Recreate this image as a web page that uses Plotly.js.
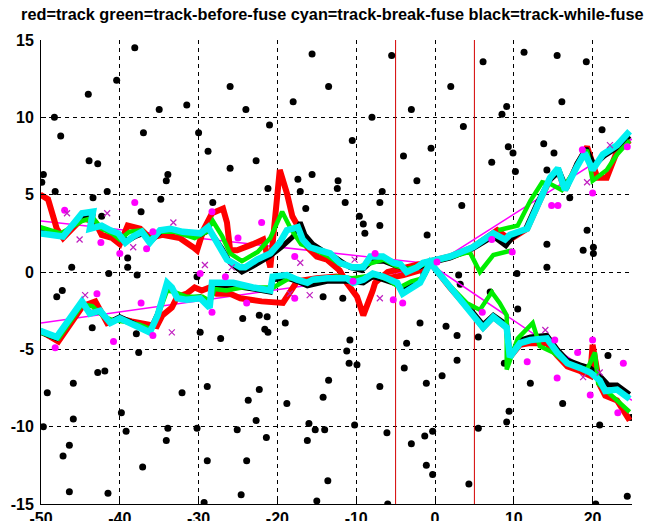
<!DOCTYPE html>
<html>
<head>
<meta charset="utf-8">
<script src="https://cdn.plot.ly/plotly-3.0.1.min.js"></script>
<style>html,body{margin:0;padding:0;background:#fff;}#chart{width:658px;height:521px;}</style>
</head>
<body>
<div id="chart"></div>
<script>
// clutter (black dots)
const clutterX = [-38.1,-15.6,-5.5,6.1,11.3,15.5,19.2,
 -49.7,-49.9,-48.2,-43.9,-42.8,-43.4,-41.6,-42.3,-37.3,-34.8,-34.1,-33.9,-46.1,-47.3,-48.0,-41.4,-39.0,-39.0,-37.8,-28.8,-26.0,-28.2,-30.2,-29.8,-27.2,-24.4,-43.5,-37.9,
 -22.7,-17.4,-15.6,-12.3,-12.4,-17.1,-21.2,-11.4,-16.4,-6.7,-7.0,-2.3,-9.6,-9.1,-7.0,-8.9,-1.0,-22.3,-21.3,-21.6,-21.2,-19.0,-14.2,-11.7,-1.9,-3.6,-10.8,-1.4,
 9.1,8.5,3.6,16.1,21.2,13.8,15.1,9.3,9.9,7.2,10.2,14.2,17.1,3.4,19.3,14.2,18.8,20.1,20.1,14.2,10.4,3.0,3.2,7.0,10.5,1.4,2.8,5.5,21.95,2.8,8.8,0.9,12.1,16.2,9.4,9.1,5.5,24.9,20.9,
 -37.6,-11.2,-10.9,-9.9,-3.9,-42.8,-41.9,-45.9,-49.2,-13.5,-7.0,-1.1,-28.9,-22.3,-32.1,-23.7,-14.2,-18.8,-39.8,-45.9,-22.7,-16.0,-10.2,-49.7,-33.9,-30.2,-25.1,-15.2,-14.0,-39.2,-6.1,-0.3,-1.3,-21.4,-34.1,-16.2,-3.0,-46.4,-47.2,-28.9,-23.9,-37.1,-1.1,-0.3,-13.6,-46.4,-41.5,-24.6,-29.3,-15.0,-6.0,
 4.3,20.4,24.4,
 -40.4,-48.3,-47.5,-44.0,-35.0,-31.5,-26.0,-21.0,-18.0,-13.5,-10.5,-8.0,-3.0,-0.5,2.0,-24.0,-30.0,-4.0,-37.0];
const clutterY = [14.5,14.1,14.0,13.6,14.2,14.0,13.6,
 6.3,5.8,5.2,7.2,7.0,4.8,5.2,3.6,3.9,4.7,5.9,6.3,0.3,-1.2,-1.6,-0.1,0.9,0.3,-0.2,7.8,6.7,4.5,-0.3,-3.9,-4.3,-3.0,-3.6,-4.0,
 7.2,6.0,6.3,5.9,5.4,5.2,5.4,4.5,4.1,5.2,4.5,5.9,3.6,3.1,3.0,2.5,2.4,-2.8,-2.9,-3.7,-3.9,-3.3,-1.6,-1.7,-3.3,-4.6,-4.4,-0.1,
 10.7,10.2,9.4,11.0,9.2,8.3,7.7,8.1,7.7,7.1,6.5,6.6,4.8,4.3,2.7,1.8,1.4,1.6,1.2,0.3,-0.1,-0.2,-0.8,-1.3,-2.4,-3.5,-4.1,-4.2,-5.4,-5.7,-5.9,-6.7,-7.2,-8.5,-9.0,-9.7,-10.1,-9.4,-9.9,
 -5.2,-5.1,-5.9,-6.0,-6.2,-6.5,-6.4,-7.2,-7.8,-7.0,-7.4,-7.2,-7.4,-7.6,-7.8,-8.3,-8.1,-8.5,-9.1,-9.5,-9.6,-9.8,-9.9,-10.0,-10.1,-10.1,-10.2,-10.2,-10.2,-10.3,-10.4,-10.3,-10.6,-10.7,-10.9,-10.9,-11.1,-11.2,-11.9,-12.2,-12.2,-12.6,-12.5,-13.1,-13.5,-14.2,-14.3,-14.4,-14.9,-14.8,-15.0,
 -13.7,-15.0,-14.5,
 12.4,10.0,8.8,11.5,10.5,10.8,12.0,9.5,11.0,12.0,8.5,10.0,10.5,8.0,12.0,10.5,9.0,7.5,9.0];

// ground truth (thin magenta)
const truthX1 = [-50, 0, 25];
const truthY1 = [3.3, 0.5, 8.6];
const truthX2 = [-50, 0, 25];
const truthY2 = [-3.3, 0.3, -8.3];

// measurements (magenta)
const measDotX = [-47,-38.1,-42.4,-40,-36.6,-35.8,-28.3,-25,-29.8,-26.6,-42.9,-40.8,-48.2,-37.3,-35.8,-28.3,-22,-17.8,-17.8,-23.9,-5.3,-4.1,-7.6,-10.4,0.25,7.2,9.8,14.8,15.6,18.7,20.0,24.4,6.0,11.7,15.2,15.5,18.1,20,19.7,23.9,23.2];
const measDotY = [4.0,4.5,1.9,1.2,1.5,2.6,3.9,2.2,-0.1,-0.3,-1.4,-4.5,-4.9,-2.0,-4.1,-2.6,3.2,1.0,-1.7,-2.0,-1.8,-2.0,1.2,-0.6,0.65,2.1,1.3,4.3,4.3,7.9,5.1,8.1,-2.6,-5.8,-4.4,-6.85,-5.2,-4.4,-7.95,-5.9,-9.1];
const measXX = [-46.7,-45.1,-41.6,-38.3,-33.2,-44.4,-33.4,-29.2,-25.8,-17.1,-18.4,-15.9,-10.2,-7.0,22.2,19.3,14,18.8,20.9];
const measXY = [3.8,2.1,3.8,1.6,3.2,-1.5,-3.9,0.45,0.3,0.6,-1.4,-1.5,0.8,-1.7,8.2,5.8,-3.75,-6.8,-6.5];

// red = track
const redX1 = [-50.1,-49.1,-48.0,-47.2,-44.7,-43.1,-42.3,-41.0,-40.0,-39.0,-37.4,-36.2,-34.6,-32.4,-30.7,-30.2,-29.4,-28.3,-26.9,-26.4,-26.0,-25.1,-23.1,-21.8,-20.9,-19.7,-18.8,-18.1,-17.1,-16.2,-15.0,-13.7,-12.1,-11.2,-9.9,-9.1,-7.9,-7.6,-6.0,-4.0,-2.0,-0.6,1.9,4.8,7.9,9.5,11.7,13.3,14.6,15.6,16.5,18.0,19.3,20.6,21.8,23.1,24.7];
const redY1 = [5.0,4.7,2.8,2.2,3.5,3.2,2.4,2.2,1.8,3.0,2.8,2.2,2.4,2.2,1.6,1.4,2.7,3.8,4.1,3.2,1.4,1.4,1.8,2.1,0.3,6.6,5.1,3.6,2.7,1.6,1.0,0.8,0.1,-0.7,-1.6,-2.8,-1.2,-0.7,0.0,0.3,0.5,0.7,1.0,1.6,2.7,2.1,2.8,4.6,6.0,6.6,5.3,6.9,8.1,6.1,6.1,7.8,8.5];
const redX2 = [-50.1,-47.8,-44.7,-43.1,-41.6,-40.0,-38.5,-35.3,-34.6,-33.4,-32.7,-31.5,-30.5,-29.6,-28.6,-27.7,-26.0,-24.7,-22.0,-19.3,-17.5,-15.0,-12.5,-10.5,-8.0,-6.0,-4.0,-2.0,-0.6,1.9,4.8,6.1,7.4,9.1,9.5,10.8,12.1,14.2,15.5,16.8,18.4,19.7,20.0,20.9,21.6,23.1,24.7];
const redY2 = [-3.8,-4.5,-2.2,-1.9,-3.3,-3.0,-3.2,-3.5,-2.8,-2.3,-1.6,-1.4,-1.0,-1.2,-1.0,-1.4,-1.4,-1.7,-1.9,-2.0,-0.6,-0.4,-0.3,-0.5,-0.3,-0.4,-0.2,0.1,0.6,-1.0,-2.7,-3.6,-2.9,-3.6,-5.5,-4.7,-4.6,-4.6,-5.4,-6.1,-6.4,-6.7,-4.7,-7.3,-8.0,-8.3,-9.6];

// black = track-while-fuse
const blackX1 = [-50.1,-47.2,-44.8,-43.4,-43.6,-42.3,-41.0,-40.0,-39.0,-38.0,-37.0,-36.0,-34.8,-33.5,-32.0,-29.8,-28.6,-28.0,-27.0,-26.0,-24.5,-23.0,-21.0,-19.5,-18.0,-17.1,-16.5,-15.5,-14.0,-12.5,-10.8,-9.3,-8.0,-6.5,-5.0,-3.5,-2.0,-0.6,1.9,4.8,7.4,9.0,9.8,11.5,13.0,14.5,15.8,16.7,18.0,19.2,20.2,21.5,23.0,24.7];
const blackY1 = [2.7,2.4,3.5,3.7,2.9,3.0,2.6,2.4,2.0,2.3,2.5,2.0,2.6,2.7,2.5,2.4,2.7,2.3,1.5,0.6,0.0,0.4,1.0,1.6,2.3,3.2,2.4,1.8,1.3,0.9,0.3,0.1,0.7,0.7,0.4,0.2,0.3,0.6,0.9,1.5,2.3,1.7,2.2,2.8,4.5,5.9,6.5,5.4,7.0,8.0,6.9,7.5,8.0,8.8];
const blackX2 = [-50.1,-48.0,-44.8,-43.8,-42.5,-41.2,-40.0,-38.7,-37.4,-36.2,-35.2,-34.0,-33.4,-32.7,-31.5,-29.8,-28.6,-28.3,-27.3,-25.6,-23.1,-20.9,-20.6,-18.8,-17.5,-16.2,-13.7,-11.2,-9.1,-7.9,-6.6,-4.8,-4.1,-2.9,-1.9,-0.6,1.9,4.8,6.1,7.4,9.1,9.5,10.8,12.1,14.2,15.5,16.8,18.4,19.7,20.9,22.0,23.1,24.7];
const blackY2 = [-3.9,-4.3,-2.0,-2.6,-2.6,-3.2,-2.9,-3.2,-3.5,-3.8,-2.7,-0.8,-1.1,-1.6,-1.7,-1.6,-2.2,-0.8,-0.9,-0.9,-1.1,-1.3,-0.5,-0.4,-0.6,-0.9,-0.6,-0.6,-0.7,-0.3,-0.5,-0.8,-1.2,-0.9,-0.6,0.6,-1.0,-2.6,-3.4,-2.8,-3.4,-5.4,-4.4,-4.2,-4.1,-5.0,-5.7,-6.0,-6.2,-6.7,-7.3,-7.3,-7.9];

// green = track-before-fuse
const greenX1 = [-50.1,-47.5,-44.8,-43.4,-42.3,-41.0,-40.0,-38.8,-37.2,-36.2,-34.9,-33.0,-30.5,-29.0,-28.2,-27.0,-26.0,-24.5,-22.5,-20.9,-19.4,-18.3,-17.0,-15.5,-13.5,-12.0,-10.0,-8.5,-6.5,-5.0,-3.5,-2.0,-0.6,1.9,4.4,5.7,7.4,9.8,null,8.0,10.5,12.1,13.6,14.6,16.1,17.5,19.3,20.0,21.8,23.1,24.7];
const greenY1 = [2.9,2.5,3.3,3.5,2.8,2.5,2.1,2.6,2.7,2.1,2.6,2.6,2.2,2.6,3.3,2.3,1.2,0.7,1.3,2.2,3.9,2.8,1.8,1.5,1.0,0.5,0.3,0.5,0.8,0.4,0.2,0.4,0.6,0.9,1.3,0.0,1.1,1.4,null,2.7,3.0,4.6,5.8,5.7,5.3,6.4,7.9,5.9,6.6,7.6,8.5];
const greenX2 = [-50.1,-47.8,-44.8,-43.5,-42.0,-41.0,-39.5,-37.5,-36.0,-35.0,-34.0,-33.0,-31.5,-29.5,-28.5,-28.0,-26.5,-24.5,-22.5,-20.5,-18.5,-16.5,-14.5,-12.5,-10.5,-9.0,-7.5,-6.0,-4.5,-3.0,-1.5,-0.6,1.9,4.0,5.7,7.2,8.2,9.1,9.1,10.5,12.4,13.3,15.0,17.0,19.3,20.3,20.7,23.1,24.7];
const greenY2 = [-3.9,-4.3,-2.1,-2.2,-2.9,-3.1,-3.2,-3.4,-3.7,-2.6,-1.2,-1.3,-1.6,-1.6,-1.9,-1.1,-1.2,-1.0,-1.0,-1.0,-0.4,-0.6,-0.5,-0.3,-0.4,-0.3,-0.2,-0.5,-1.0,-0.6,-0.4,0.6,-0.9,-2.0,-2.45,-1.3,-2.0,-2.8,-6.3,-4.3,-3.3,-4.8,-5.2,-6.0,-6.3,-5.2,-7.2,-8.3,-9.05];

// cyan = track-break-fuse
const cyanX1 = [-50.1,-47.2,-44.8,-43.4,-43.8,-42.3,-41.2,-40.2,-39.3,-38.3,-37.2,-36.2,-34.9,-33.6,-32.0,-29.8,-28.8,-28.2,-27.3,-26.4,-24.7,-24.1,-22.6,-20.9,-19.7,-18.8,-17.4,-16.8,-15.9,-14.6,-13.3,-12.1,-10.5,-9.1,-8.2,-6.6,-5.3,-4.4,-3.6,-2.3,-1.5,-0.6,1.9,4.8,7.4,8.9,9.5,11.7,13.3,14.6,15.6,16.5,18.0,19.0,20.0,21.3,23.1,24.7];
const cyanY1 = [2.5,2.3,3.8,3.9,2.8,3.0,2.7,2.5,1.9,2.3,2.6,1.9,2.7,2.8,2.6,2.5,2.9,2.4,1.6,0.8,0.3,0.3,0.8,1.2,1.9,2.7,2.9,2.1,1.6,1.4,1.2,0.6,0.3,0.3,1.0,1.0,0.6,0.5,0.0,0.3,0.6,0.7,1.0,1.6,2.5,2.1,2.4,2.8,4.7,6.1,6.7,5.3,6.8,7.7,6.6,7.6,8.2,9.1];
const cyanX2 = [-50.1,-48.0,-44.8,-43.8,-42.5,-41.2,-40.0,-38.7,-37.4,-36.2,-35.2,-34.0,-33.4,-32.7,-31.5,-29.8,-28.6,-28.3,-27.3,-25.6,-23.1,-20.9,-20.6,-18.8,-17.5,-16.2,-15.5,-13.7,-11.2,-10.4,-9.1,-7.9,-6.6,-4.8,-4.1,-2.9,-1.9,-0.6,1.9,4.8,6.1,7.4,9.1,9.5,10.8,12.1,14.2,15.5,16.8,18.4,19.7,20.9,21.6,23.1,24.7];
const cyanY2 = [-3.8,-4.2,-1.9,-2.7,-2.5,-3.3,-3.0,-3.3,-3.6,-3.9,-2.8,-0.7,-1.0,-1.7,-1.8,-1.7,-2.3,-0.7,-0.7,-0.7,-1.0,-1.2,-0.3,-0.2,-0.5,-0.7,-0.5,-0.4,-0.4,-0.7,-0.5,-0.1,-0.3,-0.7,-1.4,-1.0,-0.7,0.6,-1.0,-2.7,-3.6,-2.9,-3.6,-5.5,-4.6,-4.4,-4.3,-5.2,-5.9,-6.2,-6.5,-7.0,-7.7,-7.6,-8.2];

// vertical markers
const vlineX = [-5, 5];
const xTicks = [-50,-40,-30,-20,-10,0,10,20];
const yTicks = [-15,-10,-5,0,5,10,15];

const traces = [];
vlineX.forEach(v => traces.push({x:[v,v], y:[-15,15], mode:'lines', line:{color:'#d40000', width:1}, hoverinfo:'skip'}));
traces.push({x:clutterX, y:clutterY, mode:'markers', marker:{color:'#000', size:7}});
traces.push({x:truthX1, y:truthY1, mode:'lines', line:{color:'#ff00ff', width:1.5}});
traces.push({x:truthX2, y:truthY2, mode:'lines', line:{color:'#ff00ff', width:1.5}});
const tracks = [
  [redX1, redY1, '#ff0000', 6], [redX2, redY2, '#ff0000', 6],
  [blackX1, blackY1, '#000000', 5], [blackX2, blackY2, '#000000', 5],
  [greenX1, greenY1, '#00ee00', 4.5], [greenX2, greenY2, '#00ee00', 4.5],
  [cyanX1, cyanY1, '#00f0f0', 6.5], [cyanX2, cyanY2, '#00f0f0', 6.5]
];
tracks.forEach(t => traces.push({x:t[0], y:t[1], mode:'lines', connectgaps:false, line:{color:t[2], width:t[3], shape:'linear'}}));
traces.push({x:measDotX, y:measDotY, mode:'markers', marker:{color:'#ff00ff', size:7}});
traces.push({x:measXX, y:measXY, mode:'markers', marker:{color:'#c020c0', size:6, symbol:'x-thin', line:{color:'#c020c0', width:1.2}}});

const axisFont = {family:'Liberation Sans, Arial, sans-serif', size:16, color:'#000', weight:'bold'};
const layout = {
  width:658, height:521,
  margin:{l:41, r:26, t:40, b:17},
  paper_bgcolor:'#fff', plot_bgcolor:'#fff',
  showlegend:false,
  title:{text:'red=track green=track-before-fuse cyan=track-break-fuse black=track-while-fuse',
    font:{family:'Liberation Sans, Arial, sans-serif', size:16.3, color:'#000', weight:'bold'},
    x:0.493, xanchor:'center', y:0.973, yanchor:'middle', xref:'paper', yref:'container'},
  xaxis:{range:[-50,25], tickmode:'array', tickvals:xTicks, ticktext:xTicks.map(String),
    showgrid:true, gridcolor:'#000', gridwidth:1, griddash:'4px,4px', zeroline:false,
    showline:true, linecolor:'#000', linewidth:1, mirror:false,
    ticks:'inside', ticklen:5, tickcolor:'#000', tickfont:axisFont},
  yaxis:{range:[-15,15], tickmode:'array', tickvals:yTicks, ticktext:yTicks.map(String),
    showgrid:true, gridcolor:'#000', gridwidth:1, griddash:'4px,4px', zeroline:false,
    showline:true, linecolor:'#000', linewidth:1, mirror:false, ticklabelstandoff:3,
    ticks:'inside', ticklen:5, tickcolor:'#000', tickfont:axisFont}
};
Plotly.newPlot('chart', traces, layout, {displayModeBar:false, staticPlot:true});
</script>
</body>
</html>
